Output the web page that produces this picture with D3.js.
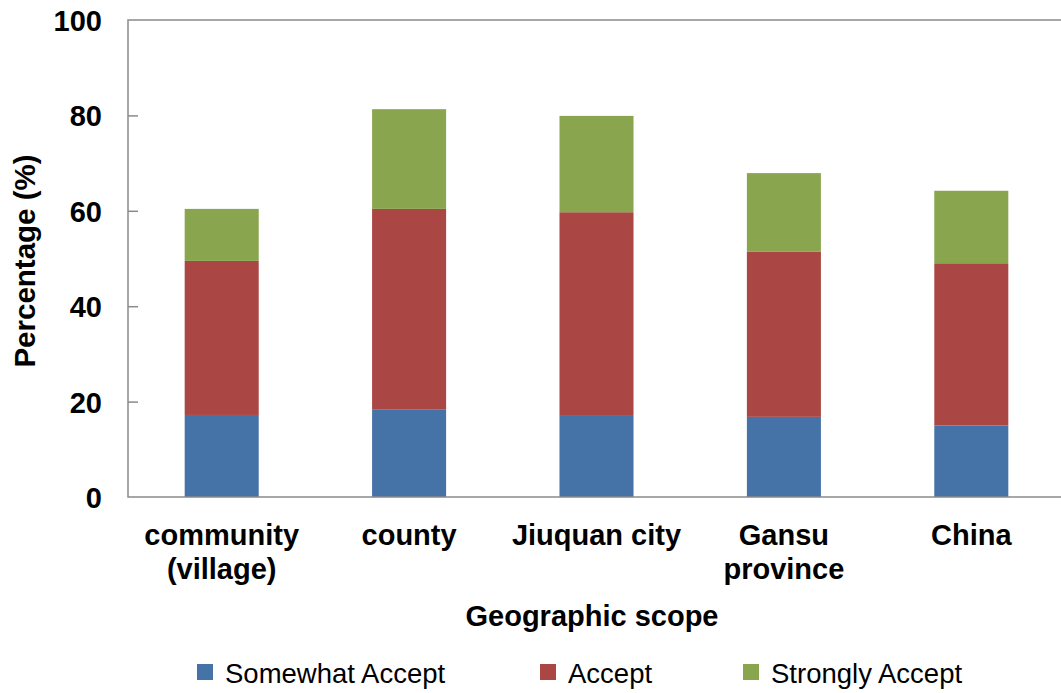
<!DOCTYPE html>
<html>
<head>
<meta charset="utf-8">
<script src="https://cdn.jsdelivr.net/npm/d3@7"></script>
<style>
  html, body { margin: 0; padding: 0; background: #ffffff; }
  svg { display: block; }
  text { font-family: "Liberation Sans", Arial, sans-serif; fill: #000; }
</style>
</head>
<body>
<svg id="chart" width="1061" height="693"></svg>
<script>
// ---- Data ----
const categories = ["community (village)", "county", "Jiuquan city", "Gansu province", "China"];
const categoryLines = [["community", "(village)"], ["county"], ["Jiuquan city"], ["Gansu", "province"], ["China"]];
const seriesNames = ["Somewhat Accept", "Accept", "Strongly Accept"];
const somewhatAccept = [17.2, 18.4, 17.0, 16.8, 15.0];
const accept = [32.3, 42.0, 42.7, 34.6, 34.0];
const stronglyAccept = [10.9, 20.9, 20.2, 16.5, 15.2];
const yTicks = [0, 20, 40, 60, 80, 100];
const colors = ["#4572A7", "#AA4643", "#89A54E"];

// ---- Layout ----
const svg = d3.select("#chart");
const plotLeft = 128, plotRight = 1065, plotTop = 20, plotBottom = 497;
const boldSize = 29;

const rows = categories.map((c, i) => ({
  cat: c,
  "Somewhat Accept": somewhatAccept[i],
  "Accept": accept[i],
  "Strongly Accept": stronglyAccept[i]
}));

const x = d3.scaleBand().domain(categories).range([plotLeft, plotRight])
  .paddingInner(0.605).paddingOuter(0.3025);
const y = d3.scaleLinear().domain([0, 100]).range([plotBottom, plotTop]);
const color = d3.scaleOrdinal().domain(seriesNames).range(colors);

const stacked = d3.stack().keys(seriesNames)(rows);

// bars
svg.append("g").selectAll("g").data(stacked).join("g")
  .attr("fill", d => color(d.key))
  .selectAll("rect").data(d => d).join("rect")
  .attr("x", d => x(d.data.cat))
  .attr("width", x.bandwidth())
  .attr("y", d => y(d[1]))
  .attr("height", d => y(d[0]) - y(d[1]));

// frame
const frameColor = "#8a8a8a";
svg.append("rect")
  .attr("x", plotLeft).attr("y", plotTop)
  .attr("width", plotRight - plotLeft).attr("height", plotBottom - plotTop)
  .attr("fill", "none").attr("stroke", frameColor).attr("stroke-width", 1.5);

// y axis (inward ticks)
const yAxis = d3.axisLeft(y).tickValues(yTicks).tickSize(-10).tickPadding(26).tickFormat(d3.format("d"));
const gy = svg.append("g").attr("transform", `translate(${plotLeft},0)`).call(yAxis);
gy.select(".domain").remove();
gy.selectAll(".tick line").attr("stroke", frameColor).attr("stroke-width", 1.5)
  .filter(d => d === 0 || d === 100).remove();
gy.selectAll(".tick text")
  .attr("font-size", boldSize).attr("font-weight", "bold")
  .attr("font-family", "'Liberation Sans', Arial, sans-serif")
  .attr("fill", "#000").attr("dy", "0.36em");

// x labels
const gx = svg.append("g");
categories.forEach((c, i) => {
  const cx = x(c) + x.bandwidth() / 2;
  const t = gx.append("text")
    .attr("x", cx)
    .attr("y", 545)
    .attr("text-anchor", "middle")
    .attr("font-size", boldSize).attr("font-weight", "bold");
  categoryLines[i].forEach((line, j) => {
    t.append("tspan").attr("x", cx).attr("y", 545 + j * 34).text(line);
  });
});

// axis titles
svg.append("text")
  .attr("x", 592).attr("y", 626)
  .attr("text-anchor", "middle")
  .attr("font-size", boldSize).attr("font-weight", "bold")
  .text("Geographic scope");

svg.append("text")
  .attr("transform", "translate(35,261) rotate(-90)")
  .attr("text-anchor", "middle")
  .attr("font-size", 29.5).attr("font-weight", "bold")
  .text("Percentage (%)");

// legend
const legendX = [197, 540, 743];
const leg = svg.append("g").selectAll("g").data(seriesNames).join("g")
  .attr("transform", (d, i) => `translate(${legendX[i]},664)`);
leg.append("rect").attr("width", 16).attr("height", 16).attr("fill", d => color(d));
leg.append("text").attr("x", 28).attr("y", 18.5)
  .attr("font-size", 27.5).text(d => d);
</script>
</body>
</html>
